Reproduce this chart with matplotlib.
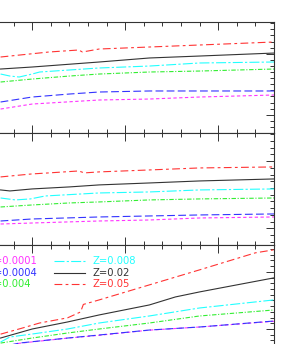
import numpy as np
import matplotlib
matplotlib.use("Agg")
import matplotlib.pyplot as plt
from matplotlib.ticker import MultipleLocator

# metallicities and styles
labels = ["Z=0.0001", "Z=0.0004", "Z=0.004", "Z=0.008", "Z=0.02", "Z=0.05"]
colors = ["#ff33ff", "#3333ff", "#33ee33", "#22ffff", "#333333", "#ff3333"]
styles = [(0, (3, 2.2)), (0, (7, 3)), (0, (4, 1.5, 1, 1.5)),
          (0, (9, 2, 2, 2)), "-", (0, (7, 3, 2.5, 3))]

# top panel: (x, y) per metallicity
p1_x = [
    [8.3, 10.0, 13.6, 16.3, 19.0, 23.0],
    [8.3, 10.0, 12.0, 13.6, 16.3, 19.0, 23.0],
    [8.3, 10.0, 12.0, 13.6, 16.3, 19.0, 23.0],
    [8.3, 8.8, 9.3, 10.0, 10.4, 13.6, 16.3, 19.0, 23.0],
    [8.3, 10.0, 13.6, 16.3, 19.0, 23.0],
    [8.3, 10.9, 12.5, 12.7, 13.6, 16.3, 19.0, 23.0],
]
p1_y = [
    [0.93, 1.75, 2.41, 2.57, 2.90, 3.23],
    [2.08, 2.90, 3.39, 3.72, 3.89, 3.89, 3.89],
    [5.36, 5.85, 6.34, 6.67, 7.00, 7.16, 7.49],
    [6.67, 6.34, 6.18, 6.67, 7.00, 7.66, 7.98, 8.48, 8.64],
    [7.49, 7.82, 8.64, 9.30, 9.62, 10.11],
    [9.46, 10.28, 10.61, 10.28, 10.77, 11.10, 11.43, 11.92],
]

# middle panel
p2_x = [
    [8.3, 10.0, 13.6, 16.3, 19.0, 23.0],
    [8.3, 10.0, 13.6, 16.3, 19.0, 23.0],
    [8.3, 10.0, 12.0, 13.6, 16.3, 19.0, 23.0],
    [8.3, 9.1, 9.9, 10.7, 13.6, 16.3, 19.0, 23.0],
    [8.3, 8.8, 10.0, 12.0, 13.6, 16.3, 19.0, 23.0],
    [8.3, 10.0, 10.9, 12.5, 12.8, 13.6, 16.3, 19.0, 23.0],
]
p2_y = [
    [0.63, 0.78, 1.08, 1.23, 1.53, 1.68],
    [1.08, 1.38, 1.68, 1.83, 1.98, 2.13],
    [3.17, 3.47, 3.77, 3.92, 4.22, 4.37, 4.51],
    [4.51, 4.22, 4.37, 4.81, 5.26, 5.41, 5.71, 5.86],
    [5.71, 5.56, 5.86, 6.16, 6.46, 6.75, 7.05, 7.35],
    [7.65, 8.10, 8.25, 8.54, 8.25, 8.40, 8.69, 8.99, 9.14],
]

# bottom panel
p3_x = [
    [8.3, 9.3, 11.9, 13.6, 16.3, 19.0, 23.0],
    [8.3, 9.3, 11.9, 13.6, 16.3, 19.0, 23.0],
    [8.3, 10.0, 11.9, 13.6, 16.3, 19.0, 23.0],
    [8.3, 8.8, 10.0, 11.9, 13.6, 16.3, 19.0, 23.0],
    [8.3, 10.0, 11.9, 13.6, 16.3, 17.7, 19.0, 23.0],
    [8.3, 9.4, 10.4, 11.9, 12.6, 12.75, 13.6, 16.3, 19.0, 22.0, 23.0],
]
p3_y = [
    [-3.3, -2.5, -1.6, -1.1, -0.2, 0.35, 1.35],
    [-3.2, -2.46, -1.58, -1.05, -0.18, 0.35, 1.40],
    [-2.46, -1.58, -0.70, 0.0, 1.05, 2.28, 3.33],
    [-2.28, -1.40, -0.88, 0.0, 1.05, 2.28, 3.68, 5.09],
    [-1.58, 0.0, 1.23, 2.46, 4.21, 5.61, 6.49, 8.95],
    [-0.90, 0.10, 1.05, 1.95, 2.98, 4.30, 5.09, 7.72, 10.35, 13.33, 13.86],
]

panels = [(p1_x, p1_y, (-3.0, 15.2)),
          (p2_x, p2_y, (-2.5, 14.2)),
          (p3_x, p3_y, (-4.9, 14.7))]

W, H = 295, 344
fig = plt.figure(figsize=(W / 100, H / 100), dpi=100)

left = -153.8 / W
width = 427.8 / W
edges = [(22, 133), (133, 245), (245, 357)]

axes = []
for (top, bot), (xs, ys, ylim) in zip(edges, panels):
    ax = fig.add_axes([left, 1 - bot / H, width, (bot - top) / H])
    for x, y, c, ls in zip(xs, ys, colors, styles):
        ax.plot(x, y, color=c, ls=ls, lw=0.8)
    ax.set_xlim(0, 23)
    ax.set_ylim(*ylim)
    ax.xaxis.set_major_locator(MultipleLocator(5))
    ax.xaxis.set_minor_locator(MultipleLocator(1))
    ax.yaxis.set_major_locator(MultipleLocator(10))
    ax.yaxis.set_minor_locator(MultipleLocator(1))
    ax.tick_params(which="both", direction="in", top=True, right=True,
                   labelleft=False, labelbottom=False, color="#333333",
                   width=0.7)
    ax.tick_params(which="major", length=5.8)
    ax.tick_params(which="minor", length=2.9)
    for s in ax.spines.values():
        s.set_color("#333333")
        s.set_linewidth(0.8)
    axes.append(ax)

# legend in bottom panel, two columns
ax = axes[2]
trans = ax.transAxes
row_y = [261, 273, 284]


def fx(px):
    return (px / W - left) / width


def fy(py):
    return (357 - py) / (357 - 245)


for i, lab in enumerate(labels):
    col, row = divmod(i, 3)
    yy = fy(row_y[row])
    if col == 0:
        ax.plot([fx(-52), fx(-22)], [yy, yy], color=colors[i], ls=styles[i],
                lw=0.8, transform=trans, clip_on=False)
        ax.text(fx(-13), yy, lab, color=colors[i], fontsize=7.2,
                va="center", ha="left", transform=trans)
    else:
        ax.plot([fx(54), fx(85)], [yy, yy], color=colors[i], ls=styles[i],
                lw=0.8, transform=trans)
        ax.text(fx(93), yy, lab, color=colors[i], fontsize=7.2,
                va="center", ha="left", transform=trans)

fig.savefig("out.png", dpi=100)
